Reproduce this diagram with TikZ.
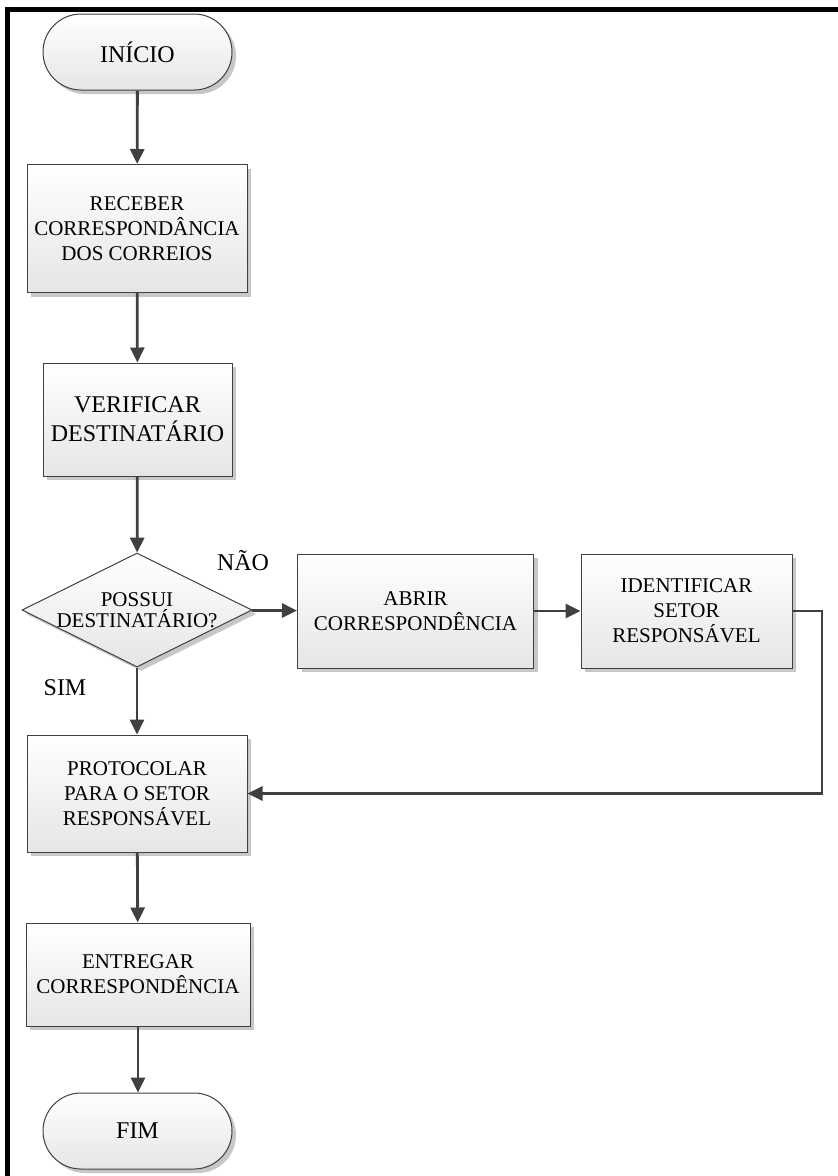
\documentclass[tikz,border=0pt]{standalone}
\usepackage{fontspec}
\setmainfont{Liberation Serif}
\usetikzlibrary{shapes.geometric,shadows,arrows.meta}
\definecolor{linha}{HTML}{404040}
\tikzset{
  sombra/.style={drop shadow={shadow xshift=4pt, shadow yshift=-4pt, fill=black!22, opacity=1}},
  caixa/.style={rectangle, draw=linha, line width=1pt, top color=white, bottom color=black!10,
    sombra, align=center, inner sep=0pt, font=\fontsize{21}{25}\selectfont},
  terminal/.style={caixa, rounded corners=38pt, minimum width=189pt, minimum height=76pt,
    font=\fontsize{24}{29}\selectfont},
  decisao/.style={diamond, draw=linha, line width=1pt, top color=white, bottom color=black!10,
    sombra, inner sep=0pt, minimum width=230pt, minimum height=114pt},
  seta/.style={draw=linha, line width=2.8pt, -{Triangle[length=15pt,width=14pt]}},
  rotulo/.style={font=\fontsize{24}{29}\selectfont}
}
\begin{document}
\begin{tikzpicture}[x=1pt, y=-1pt]
	\useasboundingbox (0,0) rectangle (838,1176);
	\draw[line width=5pt] (7.5,1176) -- (7.5,9) -- (838,9);
	
	\node[terminal] (inicio) at (137.5,52) {INÍCIO};
	\node[caixa, minimum width=220pt, minimum height=128pt] (receber) at (137,228.5) {RECEBER\\CORRESPONDÂNCIA\\DOS CORREIOS};
	\node[caixa, minimum width=189pt, minimum height=113pt, font=\fontsize{24}{29}\selectfont] (verificar) at (137.5,419.5) {VERIFICAR\\DESTINATÁRIO};
	\node[decisao] (possui) at (137,610) {};
	\node[font=\fontsize{21}{21}\selectfont, align=center, inner sep=0pt] (possuitxt) at (possui.center) {POSSUI\\DESTINATÁRIO?};
	\node[caixa, minimum width=236pt, minimum height=114pt] (abrir) at (415.5,611) {ABRIR\\CORRESPONDÊNCIA};
	\node[caixa, minimum width=211pt, minimum height=114pt] (identificar) at (686.5,611) {IDENTIFICAR\\SETOR\\RESPONSÁVEL};
	\node[caixa, minimum width=220pt, minimum height=117pt] (protocolar) at (137,793.5) {PROTOCOLAR\\PARA O SETOR\\RESPONSÁVEL};
	\node[caixa, minimum width=224pt, minimum height=103pt] (entregar) at (138,974.5) {ENTREGAR\\CORRESPONDÊNCIA};
	\node[terminal] (fim) at (137.5,1131) {FIM};
	\coordinate (volta) at (822,611);
	
	\node[rotulo] (nao) at (243,561) {NÃO};
	\node[rotulo] (sim) at (65,688) {SIM};
	
	\draw[seta] (inicio) -- (receber);
	\draw[seta] (receber) -- (verificar);
	\draw[seta] (verificar) -- (possui);
	\draw[seta] (possui) -- (abrir);
	\draw[seta] (abrir) -- (identificar);
	\draw[seta] (possui.south) -- (protocolar.north);
	\draw[seta] (identificar.east) -- (volta) |- (protocolar.east);
	\draw[seta] (protocolar) -- (entregar);
	\draw[seta] (entregar.south) -- (fim.north -| entregar.south);
\end{tikzpicture}
\end{document}
